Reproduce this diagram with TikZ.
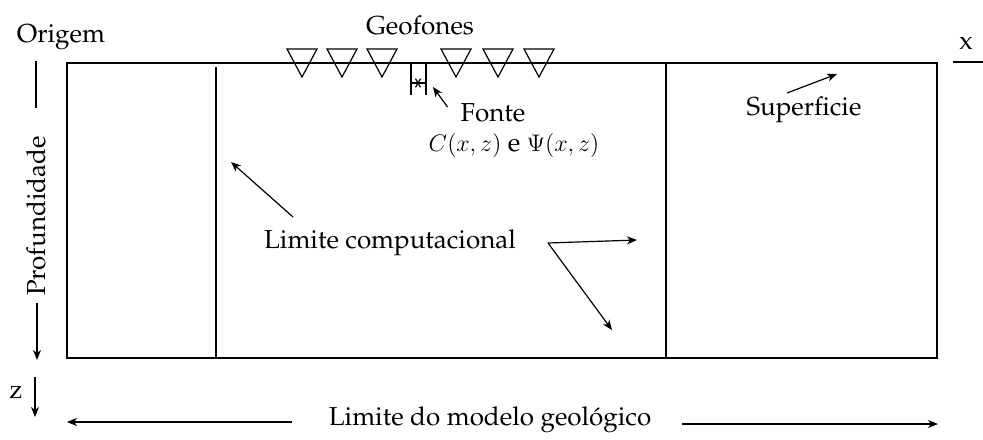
\documentclass[tikz,border=0pt]{standalone}
\usepackage[T1]{fontenc}
\renewcommand{\rmdefault}{ppl}
\usetikzlibrary{arrows.meta, positioning}

\begin{document}
\begin{tikzpicture}[x=0.5pt, y=-0.5pt, font=\fontsize{13}{15}\selectfont,
  edge/.style={thick},
  seta/.style={-{Stealth[length=5pt, width=4pt, inset=1.5pt]}, semithick},
  rot/.style={inner sep=1pt}]

  \useasboundingbox (0,0) rectangle (983,439);

  % model and computational limits
  \draw[edge] (67,63) rectangle (937,358);
  \draw[edge] (216,67) -- (216,358);
  \draw[edge] (666,63) -- (666,358);

  % axes
  \node (origem) at (61,37) {Origem};
  \node[rotate=90, rot] (prof) at (36,216) {Profundidade};
  \coordinate (oTop) at (36,61);
  \coordinate (oBot) at (36,108);
  \draw[edge] (oTop) -- (oBot);
  \coordinate (pTip) at (37,360);
  \draw[seta, thick] (37,303) -- (pTip);
  \node (z) at (16,393) {z};
  \draw[seta] (35,377) -- (35,417);
  \node (x) at (966,43) {x};
  \draw[semithick] (953,62) -- (983,62);

  % geophones
  \node (geof) at (420,25) {Geofones};
  \foreach \gx in {302,342,382,456,498,539}
    \draw[semithick] (\gx-15,49) -- (\gx+15,49) -- (\gx,77) -- cycle;

  % source
  \coordinate (src) at (418,83);
  \draw[semithick] (411,63) -- (411,95) (426,63) -- (426,95);
  \draw[semithick] (411,83) -- (426,83);
  \foreach \a in {60,120}
    \draw[semithick] (src) ++(\a:5) -- ++(\a+180:10);
  \node (fonte) at (493,113) {Fonte};
  \coordinate (fTip) at (433,87);
  \draw[seta] (fonte.west) ++(-6,-6) -- (fTip);
  \node (campos) at (514,145) {$C(x,z)$ e $\Psi(x,z)$};

  % surface
  \node (sup) at (804,110) {Superficie};
  \coordinate (sTip) at (837,74);
  \draw[seta] (787,93) -- (sTip);

  % computational limit
  \node (limc) at (390,243) {Limite computacional};
  \coordinate (lc1) at (231,162);
  \coordinate (lc2) at (637,240);
  \coordinate (lc3) at (612,330);
  \coordinate (lcR) at (548,243);
  \draw[seta] (293,217) -- (lc1);
  \draw[seta] (lcR) -- (lc2);
  \draw[seta] (lcR) -- (lc3);

  % geological model limit
  \node (limg) at (490,420) {Limite do modelo geol\'ogico};
  \coordinate (gL) at (67,422);
  \coordinate (gR) at (938,424);
  \draw[seta] (292,422) -- (gL);
  \draw[seta] (682,424) -- (gR);
\end{tikzpicture}
\end{document}
